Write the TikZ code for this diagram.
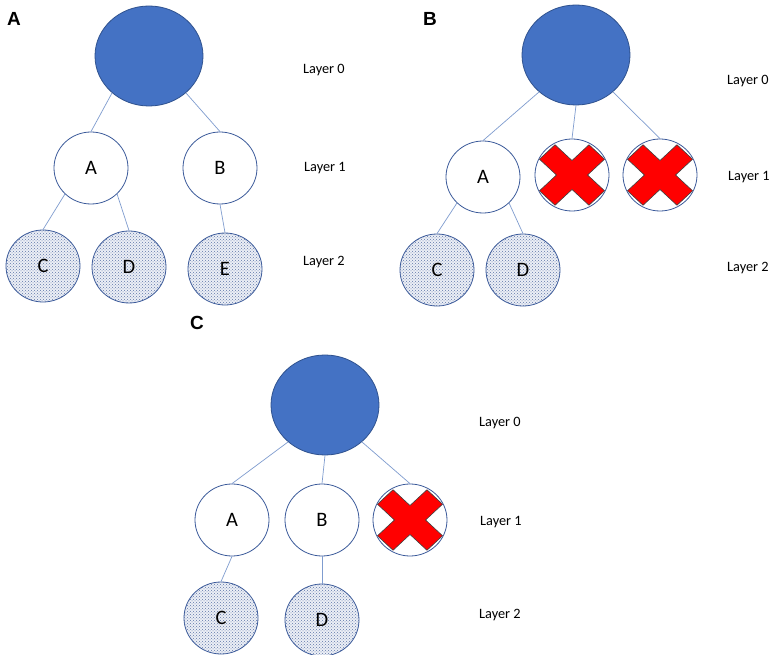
\documentclass[tikz,border=0pt]{standalone}
\usepackage{fontspec}
\setmainfont{Carlito}
\newfontfamily\panelfont{Liberation Sans}
\usetikzlibrary{shapes.geometric,patterns}

\definecolor{rootblue}{HTML}{4472C4}
\definecolor{rootline}{HTML}{2F528F}
\definecolor{ringline}{HTML}{3B5A9A}
\definecolor{linkblue}{HTML}{7F9CCF}
\definecolor{dotblue}{HTML}{5F77A8}
\definecolor{leafbg}{HTML}{ECEFF6}
\definecolor{crossred}{HTML}{FF0000}

\tikzset{
  rootnode/.style={ellipse, draw=rootline, fill=rootblue, line width=0.8pt,
    minimum width=108pt, minimum height=100pt, inner sep=0pt},
  ringnode/.style={ellipse, draw=ringline, fill=white, line width=0.8pt,
    minimum width=74pt, minimum height=72pt, inner sep=0pt,
    font=\fontsize{20.5}{21}\selectfont},
  leafnode/.style={ringnode, fill=none,
    preaction={fill=leafbg},
    postaction={pattern=crosshatch dots, pattern color=dotblue}},
  layerlabel/.style={anchor=west, inner sep=0pt, font=\fontsize{14.3}{15}\selectfont},
  panellabel/.style={inner sep=0pt, font=\panelfont\bfseries\fontsize{19}{19}\selectfont},
  link/.style={draw=linkblue, line width=0.7pt},
  pics/crossmark/.style={code={
    \begin{scope}[yscale=0.93, rotate=45]
      \filldraw[fill=crossred, draw=black!75, line width=0.6pt]
        (35,11) -- (11,11) -- (11,35) -- (-11,35) -- (-11,11) -- (-35,11)
        -- (-35,-11) -- (-11,-11) -- (-11,-35) -- (11,-35) -- (11,-11)
        -- (35,-11) -- cycle;
    \end{scope}
  }}
}

\begin{document}
\begin{tikzpicture}[x=1pt, y=-1pt]
  \useasboundingbox[fill=white] (0,0) rectangle (772,655);

  % ---------------- panel A ----------------
  \node[panellabel] (labA) at (14,19) {A};
  \node[rootnode] (a0) at (149,56) {};
  \node[ringnode] (aA) at (91,168) {A};
  \node[ringnode] (aB) at (220,168) {B};
  \node[leafnode] (aC) at (43,266) {C};
  \node[leafnode] (aD) at (129,267) {D};
  \node[leafnode] (aE) at (225,269) {E};
  \draw[link] (a0.225) -- (aA.north);
  \draw[link] (a0.315) -- (aB.north);
  \draw[link] (aA.225) -- (aC.north);
  \draw[link] (aA.315) -- (aD.north);
  \draw[link] (aB.south) -- (aE.north);
  \node[layerlabel] (aL0) at (303,70) {Layer 0};
  \node[layerlabel] (aL1) at (304,168) {Layer 1};
  \node[layerlabel] (aL2) at (303,262) {Layer 2};

  % ---------------- panel B ----------------
  \node[panellabel] (labB) at (430,19) {B};
  \node[rootnode] (b0) at (576,55) {};
  \node[ringnode] (bA) at (483,177) {A};
  \node[ringnode] (bX1) at (572,175) {};
  \node[ringnode] (bX2) at (660,175) {};
  \node[leafnode] (bC) at (437,270) {C};
  \node[leafnode] (bD) at (523,270) {D};
  \draw[link] (b0.225) -- (bA.north);
  \draw[link] (b0.south) -- (bX1.north);
  \draw[link] (b0.315) -- (bX2.north);
  \draw[link] (bA.225) -- (bC.north);
  \draw[link] (bA.315) -- (bD.north);
  \pic at (bX1.center) {crossmark};
  \pic at (bX2.center) {crossmark};
  \node[layerlabel] (bL0) at (727,81) {Layer 0};
  \node[layerlabel] (bL1) at (728,177) {Layer 1};
  \node[layerlabel] (bL2) at (727,268) {Layer 2};

  % ---------------- panel C ----------------
  \node[panellabel] (labC) at (197,323) {C};
  \node[rootnode] (c0) at (325,405) {};
  \node[ringnode] (cA) at (232,520) {A};
  \node[ringnode] (cB) at (322,520) {B};
  \node[ringnode] (cX) at (410,520) {};
  \node[leafnode] (cC) at (221,618) {C};
  \node[leafnode] (cD) at (322,620) {D};
  \draw[link] (c0.225) -- (cA.north);
  \draw[link] (c0.south) -- (cB.north);
  \draw[link] (c0.315) -- (cX.north);
  \draw[link] (cA.south) -- (cC.north);
  \draw[link] (cB.south) -- (cD.north);
  \pic at (cX.center) {crossmark};
  \node[layerlabel] (cL0) at (479,423) {Layer 0};
  \node[layerlabel] (cL1) at (480,522) {Layer 1};
  \node[layerlabel] (cL2) at (479,615) {Layer 2};
\end{tikzpicture}
\end{document}
